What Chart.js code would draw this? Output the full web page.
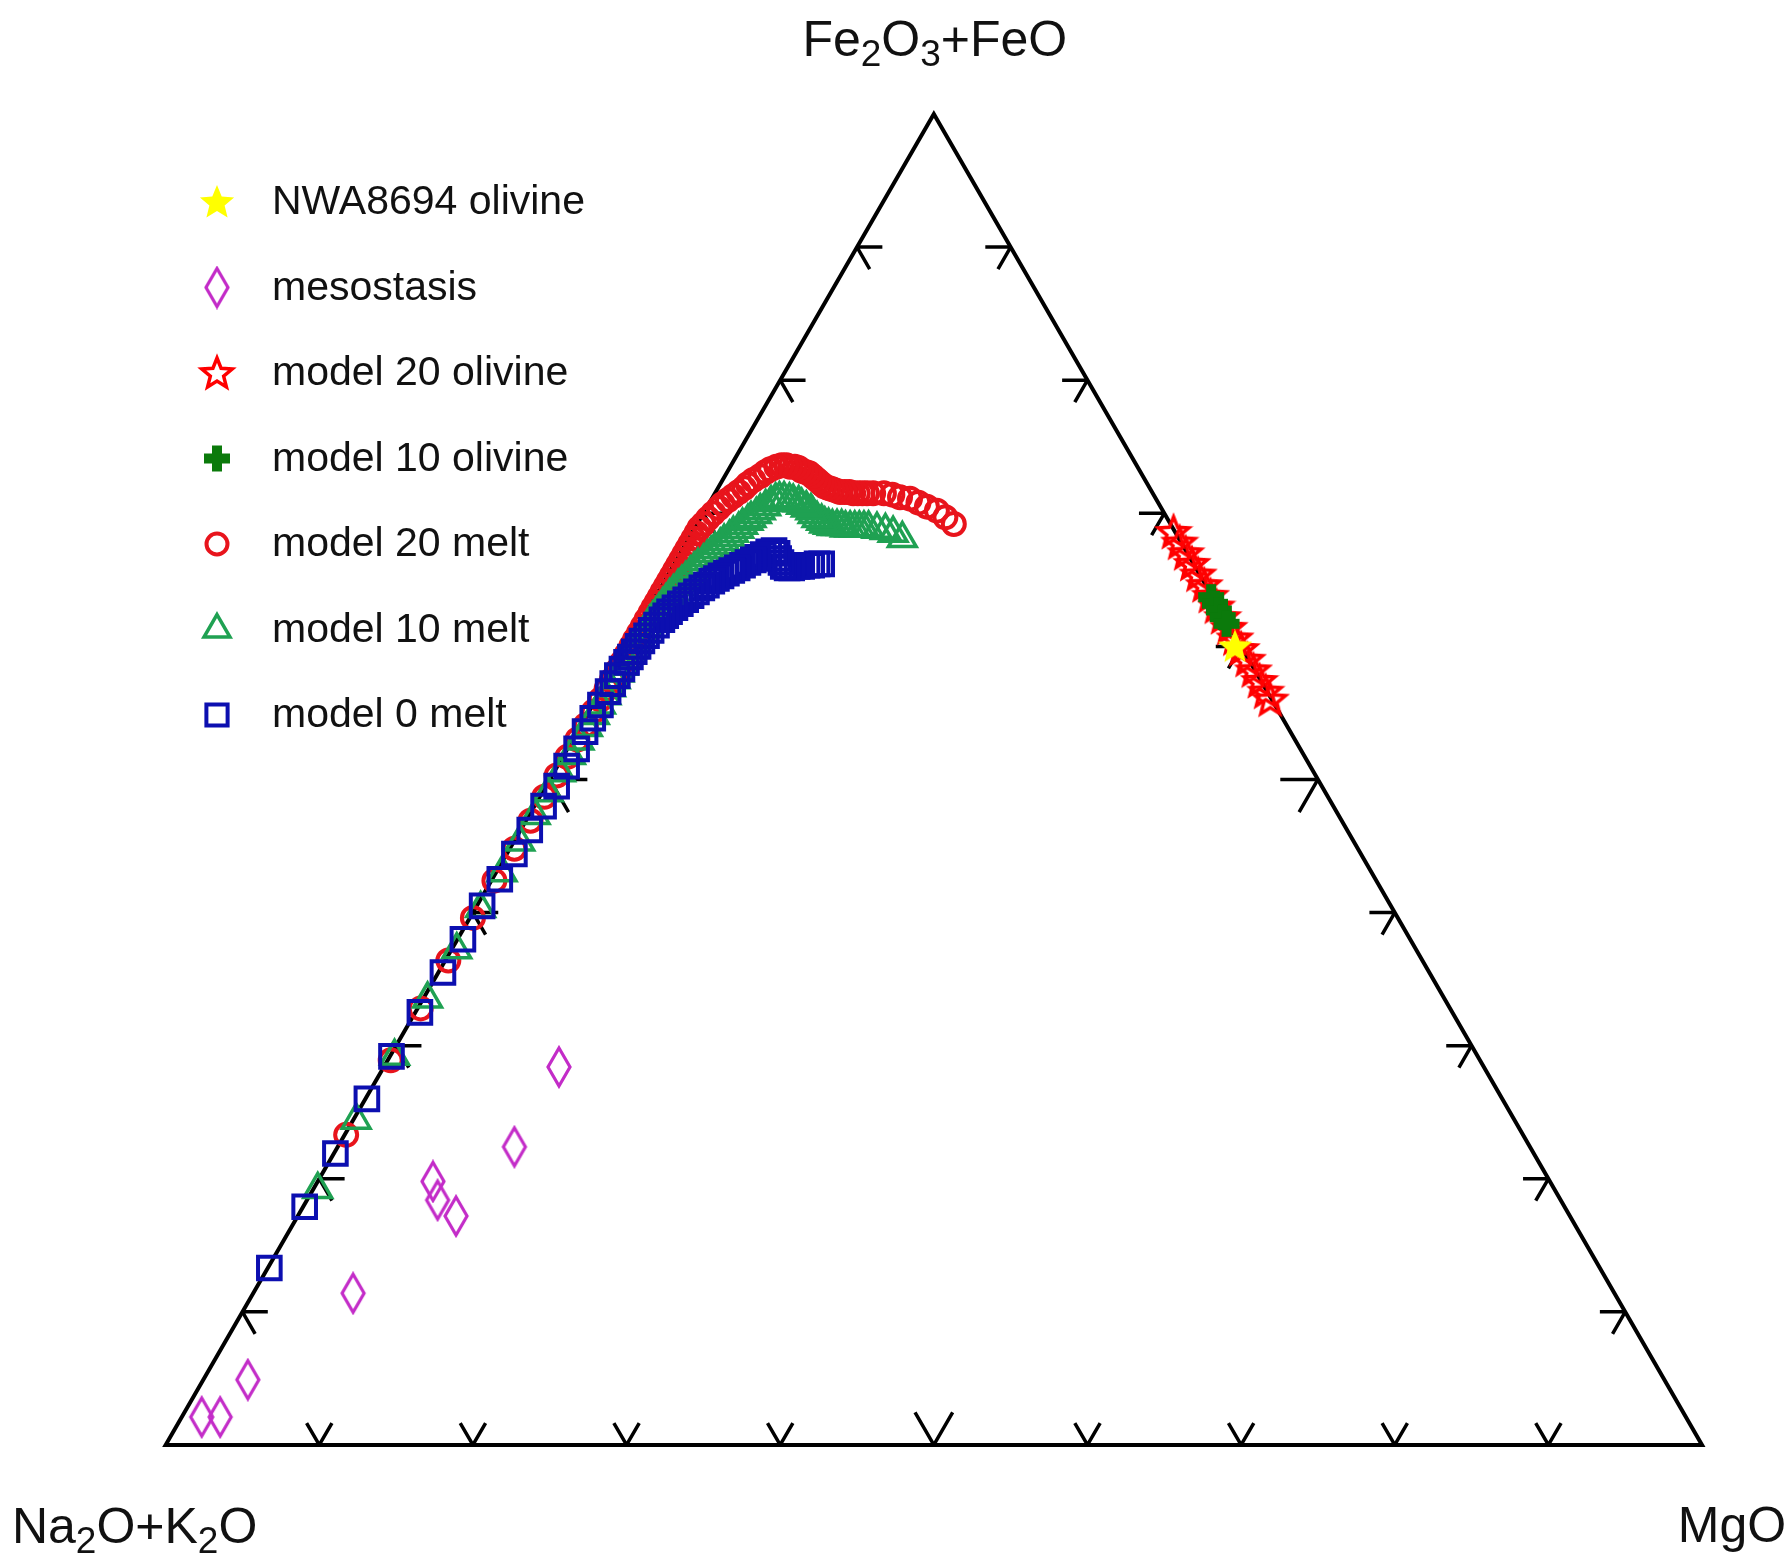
<!DOCTYPE html>
<html>
<head>
<meta charset="utf-8">
<title>Fe2O3+FeO – Na2O+K2O – MgO ternary</title>
<script src="https://cdn.jsdelivr.net/npm/chart.js@4.4.1/dist/chart.umd.min.js"></script>
<style>
  html, body { margin: 0; padding: 0; background: #fff; }
  #wrap { width: 1791px; height: 1559px; }
</style>
</head>
<body>
<div id="wrap"><canvas id="tern" width="1791" height="1559"></canvas></div>
<script>
// Compositions as [Fe2O3+FeO, MgO] in % of the ternary sum.
// Na2O+K2O is the remainder up to 100.
const nwaOlivine = [[60.0, 39.6]];

const mesostasis = [
    [2.1, 1.3], [2.1, 2.5], [4.9, 2.9], [11.4, 6.5], [19.8, 7.5],
    [18.4, 8.5], [17.2, 10.3], [22.4, 11.5], [28.4, 11.4]
];

const model20Olivine = [
    [68.6, 31.3], [67.8, 32.1], [67.0, 32.9], [66.2, 33.7], [65.4, 34.5], [64.6, 35.3],
    [63.8, 36.1], [63.0, 36.9], [62.2, 37.7], [61.4, 38.5], [60.6, 39.3], [59.8, 40.1],
    [59.0, 40.9], [58.2, 41.7], [57.4, 42.5], [56.6, 43.3], [56.0, 43.9]
];

const model10Olivine = [
    [63.7, 36.2], [63.2, 36.7], [62.7, 37.2], [62.2, 37.7], [61.7, 38.2]
];

const model20Melt = [
    [69.2, 16.7], [69.7, 15.9], [70.2, 15.1], [70.5, 14.3], [70.8, 13.6], [71.1, 12.9],
    [71.2, 12.2], [71.4, 11.6], [71.5, 11.0], [71.5, 10.3],
    [71.5, 9.9], [71.5, 9.6], [71.5, 9.3], [71.5, 9.0], [71.6, 8.7], [71.6, 8.4],
    [71.6, 8.1], [71.7, 7.8], [71.8, 7.5], [71.9, 7.2], [72.0, 6.9], [72.2, 6.6],
    [72.4, 6.3], [72.6, 6.0], [72.8, 5.7], [73.0, 5.4], [73.1, 5.1], [73.2, 4.8],
    [73.4, 4.5], [73.5, 4.2], [73.5, 3.9], [73.6, 3.6], [73.6, 3.3], [73.5, 3.0],
    [73.3, 2.7], [73.1, 2.5], [72.8, 2.3], [72.5, 2.0], [72.2, 1.8], [71.9, 1.7],
    [71.6, 1.5], [71.3, 1.3], [71.0, 1.1], [70.7, 0.9], [70.4, 0.8], [70.0, 0.65],
    [69.6, 0.5], [69.2, 0.4], [68.9, 0.3],
    [68.5, 0.3], [68.1, 0.3], [67.7, 0.3], [67.3, 0.3], [66.9, 0.3], [66.5, 0.3],
    [66.1, 0.3], [65.7, 0.3], [65.3, 0.3], [64.9, 0.3], [64.5, 0.3], [64.1, 0.3],
    [63.7, 0.3], [63.3, 0.3], [62.9, 0.3], [62.5, 0.3], [62.0, 0.3], [61.5, 0.3],
    [61.0, 0.3], [60.5, 0.3], [60.0, 0.3], [59.4, 0.3], [58.8, 0.3], [58.2, 0.3],
    [57.5, 0.3], [56.8, 0.3], [56.0, 0.3], [55.1, 0.3], [54.1, 0.3], [53.0, 0.3],
    [51.7, 0.3], [50.3, 0.3], [48.7, 0.3], [46.9, 0.3], [44.8, 0.3], [42.4, 0.2],
    [39.6, 0.2], [36.4, 0.2], [32.8, 0.2], [28.9, 0.2], [23.3, 0.1]
];

const model10Melt = [
    [68.1, 13.9], [68.5, 13.1], [68.7, 12.5], [68.8, 11.9], [68.9, 11.3],
    [68.9, 11.0], [68.9, 10.7], [68.9, 10.4], [68.9, 10.1], [68.9, 9.8], [69.0, 9.5],
    [69.0, 9.2], [69.0, 8.9], [69.1, 8.6], [69.2, 8.3], [69.4, 8.0], [69.6, 7.6],
    [69.9, 7.2], [70.2, 6.9], [70.4, 6.5], [70.6, 6.1], [70.8, 5.8], [70.9, 5.4],
    [71.0, 5.1], [71.1, 4.7], [71.1, 4.4], [71.0, 4.2], [70.8, 4.0], [70.5, 3.8],
    [70.2, 3.6], [69.9, 3.5], [69.6, 3.3], [69.4, 3.2], [69.1, 3.0], [68.8, 2.9],
    [68.5, 2.7], [68.2, 2.6], [67.9, 2.4], [67.6, 2.3], [67.3, 2.1], [67.0, 2.0],
    [66.7, 1.9], [66.4, 1.8], [66.1, 1.6], [65.8, 1.5], [65.5, 1.4], [65.1, 1.3],
    [64.8, 1.2], [64.5, 1.1], [64.1, 1.0], [63.8, 0.9], [63.4, 0.85], [63.1, 0.8],
    [62.7, 0.75], [62.4, 0.7], [62.1, 0.65], [61.8, 0.6],
    [61.4, 0.6], [61.0, 0.6], [60.6, 0.6], [60.2, 0.55], [59.8, 0.55], [59.4, 0.55],
    [59.0, 0.5], [58.5, 0.5], [58.0, 0.5], [57.5, 0.5], [56.9, 0.5], [56.3, 0.5],
    [55.6, 0.5], [54.8, 0.5], [53.9, 0.5], [52.9, 0.45], [51.8, 0.45], [50.5, 0.45],
    [49.0, 0.4], [47.3, 0.4], [45.3, 0.4], [43.0, 0.4], [40.3, 0.35], [37.2, 0.35],
    [33.5, 0.3], [29.2, 0.3], [24.4, 0.2], [19.2, 0.3]
];

const model0Melt = [
    [66.2, 9.6], [66.2, 9.3], [66.1, 9.0], [66.1, 8.7], [66.0, 8.4], [66.0, 8.1],
    [65.9, 7.8], [65.9, 7.5], [66.0, 7.2], [66.3, 6.9], [66.6, 6.6], [67.0, 6.3],
    [67.2, 6.0], [67.1, 5.7], [66.9, 5.45], [66.7, 5.2], [66.5, 5.0], [66.3, 4.75],
    [66.1, 4.5], [65.9, 4.25], [65.7, 4.0], [65.5, 3.75], [65.3, 3.5], [65.1, 3.3],
    [64.9, 3.1], [64.6, 2.9], [64.4, 2.7], [64.1, 2.5], [63.8, 2.3], [63.5, 2.1],
    [63.2, 1.9], [62.9, 1.7], [62.6, 1.5], [62.3, 1.4], [62.0, 1.3], [61.6, 1.15],
    [61.2, 1.0], [60.8, 0.9], [60.4, 0.8], [60.0, 0.75], [59.6, 0.7], [59.2, 0.65],
    [58.8, 0.6], [58.3, 0.55], [57.8, 0.5], [57.2, 0.5],
    [56.6, 0.5], [55.6, 0.5], [54.6, 0.5], [53.6, 0.5], [52.3, 0.6], [51.0, 0.6],
    [49.5, 0.7], [48.0, 0.6], [46.2, 0.6], [44.4, 0.5], [42.5, 0.5], [40.5, 0.35],
    [38.0, 0.35], [35.5, 0.3], [32.5, 0.3], [29.2, 0.1], [26.0, 0.1], [21.9, 0.1],
    [17.9, 0.1], [13.3, 0.1]
];

const seriesLabels = [
    'NWA8694 olivine', 'mesostasis', 'model 20 olivine', 'model 10 olivine',
    'model 20 melt', 'model 10 melt', 'model 0 melt'
];
// corner labels: top, bottom-left, bottom-right (digits are drawn as subscripts)
const cornerLabels = ['Fe2O3+FeO', 'Na2O+K2O', 'MgO'];
const tickValues = [10, 20, 30, 40, 50, 60, 70, 80, 90];

// -------------------------------------------------------------------

const SQ3 = Math.sqrt(3) / 2;
const toXY = ([fe, mg]) => ({ x: mg + fe / 2, y: fe * SQ3 });
const FONT = "'Liberation Sans', Arial, Helvetica, sans-serif";

// small canvases for the marker shapes Chart.js does not have
function makeMarker(w, h, draw) {
    const c = document.createElement('canvas');
    c.width = w;
    c.height = h;
    draw(c.getContext('2d'), w, h);
    return c;
}

function starPath(ctx, cx, cy, R, r) {
    ctx.beginPath();
    for (let i = 0; i < 10; i++) {
        const a = -Math.PI / 2 + i * Math.PI / 5;
        const rad = i % 2 === 0 ? R : r;
        const px = cx + Math.cos(a) * rad;
        const py = cy + Math.sin(a) * rad;
        i === 0 ? ctx.moveTo(px, py) : ctx.lineTo(px, py);
    }
    ctx.closePath();
}

const yellowStar = makeMarker(40, 40, (ctx) => {
    starPath(ctx, 20, 21, 18, 8);
    ctx.fillStyle = '#ffff00';
    ctx.fill();
});

const redStar = makeMarker(40, 40, (ctx) => {
    starPath(ctx, 20, 21, 16, 7);
    ctx.strokeStyle = '#ff0000';
    ctx.lineWidth = 3.5;
    ctx.lineJoin = 'miter';
    ctx.stroke();
});

const greenPlus = makeMarker(28, 28, (ctx) => {
    ctx.fillStyle = '#0b7a0b';
    ctx.fillRect(9, 1, 10, 26);
    ctx.fillRect(1, 9, 26, 10);
});

const diamond = makeMarker(28, 44, (ctx) => {
    ctx.beginPath();
    ctx.moveTo(14, 3);
    ctx.lineTo(25, 22);
    ctx.lineTo(14, 41);
    ctx.lineTo(3, 22);
    ctx.closePath();
    ctx.strokeStyle = '#c32cc8';
    ctx.lineWidth = 3.2;
    ctx.stroke();
});

function drawChem(ctx, text, cx, baseline, size) {
    // digits are subscripts
    const parts = text.match(/\d+|\D+/g);
    const subSize = Math.round(size * 0.74);
    const widthOf = (p) => {
        ctx.font = `${/\d/.test(p) ? subSize : size}px ${FONT}`;
        return ctx.measureText(p).width;
    };
    const total = parts.reduce((s, p) => s + widthOf(p), 0);
    let x = cx - total / 2;
    ctx.textAlign = 'left';
    ctx.textBaseline = 'alphabetic';
    parts.forEach(p => {
        const sub = /\d/.test(p);
        ctx.font = `${sub ? subSize : size}px ${FONT}`;
        ctx.fillText(p, x, baseline + (sub ? size * 0.2 : 0));
        x += ctx.measureText(p).width;
    });
}

const ternaryFrame = {
    id: 'ternaryFrame',
    beforeDatasetsDraw(chart) {
        const { ctx, scales: { x, y } } = chart;
        const P = (a, b) => [x.getPixelForValue(a), y.getPixelForValue(b)];
        ctx.save();
        ctx.strokeStyle = '#000';
        ctx.lineWidth = 4;
        ctx.lineJoin = 'miter';
        ctx.beginPath();
        ctx.moveTo(...P(0, 0));
        ctx.lineTo(...P(100, 0));
        ctx.lineTo(...P(50, 100 * SQ3));
        ctx.closePath();
        ctx.stroke();

        ctx.lineWidth = 3.5;
        ctx.lineCap = 'butt';
        const seg = (p, dx, dy) => {
            ctx.moveTo(...P(p[0], p[1]));
            ctx.lineTo(...P(p[0] + dx, p[1] + dy));
        };
        ctx.beginPath();
        tickValues.forEach(v => {
            const len = v === 50 ? 2.45 : 1.65;
            // bottom side
            seg([v, 0], len / 2, len * SQ3);
            seg([v, 0], -len / 2, len * SQ3);
            // left side
            seg([v / 2, v * SQ3], len, 0);
            seg([v / 2, v * SQ3], len / 2, -len * SQ3);
            // right side
            seg([100 - v / 2, v * SQ3], -len, 0);
            seg([100 - v / 2, v * SQ3], -len / 2, -len * SQ3);
        });
        ctx.stroke();
        ctx.restore();
    },
    afterDraw(chart) {
        const { ctx, scales: { x, y } } = chart;
        ctx.save();
        ctx.fillStyle = '#111';

        // corner labels
        const top = [x.getPixelForValue(50), y.getPixelForValue(100 * SQ3)];
        const left = [x.getPixelForValue(0), y.getPixelForValue(0)];
        const right = [x.getPixelForValue(100), y.getPixelForValue(0)];
        drawChem(ctx, cornerLabels[0], top[0] + 1, top[1] - 58, 50);
        drawChem(ctx, cornerLabels[1], left[0] - 31, left[1] + 98, 50);
        drawChem(ctx, cornerLabels[2], right[0] + 30, right[1] + 97, 50);

        // legend
        const drawPoint = Chart.helpers && Chart.helpers.drawPoint;
        seriesLabels.forEach((label, i) => {
            const ds = chart.data.datasets.find(d => d.label === label);
            const ly = 202 + i * 85.5;
            if (ds && drawPoint) {
                ctx.save();
                ctx.strokeStyle = ds.borderColor || '#000';
                ctx.fillStyle = 'rgba(0,0,0,0)';
                ctx.lineWidth = ds.borderWidth || 1;
                drawPoint(ctx, {
                    pointStyle: ds.pointStyle,
                    rotation: 0,
                    radius: ds.legendRadius || ds.pointRadius,
                    borderWidth: ds.borderWidth || 0
                }, 217, ly);
                ctx.restore();
            }
            ctx.font = `41px ${FONT}`;
            ctx.textAlign = 'left';
            ctx.textBaseline = 'middle';
            ctx.fillStyle = '#111';
            ctx.fillText(label, 272, ly + 1);
        });
        ctx.restore();
    }
};

const clear = 'rgba(0,0,0,0)';

new Chart(document.getElementById('tern'), {
    type: 'scatter',
    data: {
        datasets: [
            {
                label: 'NWA8694 olivine',
                data: nwaOlivine.map(toXY),
                pointStyle: yellowStar,
                pointRadius: 15,
                order: 0
            },
            {
                label: 'mesostasis',
                data: mesostasis.map(toXY),
                pointStyle: diamond,
                pointRadius: 15,
                order: 3
            },
            {
                label: 'model 20 olivine',
                data: model20Olivine.map(toXY),
                pointStyle: redStar,
                pointRadius: 15,
                order: 2
            },
            {
                label: 'model 10 olivine',
                data: model10Olivine.map(toXY),
                pointStyle: greenPlus,
                pointRadius: 13,
                order: 1
            },
            {
                label: 'model 20 melt',
                data: model20Melt.map(toXY),
                pointStyle: 'circle',
                pointRadius: 11,
                legendRadius: 10.5,
                borderColor: '#e8141c',
                backgroundColor: clear,
                borderWidth: 4,
                order: 6
            },
            {
                label: 'model 10 melt',
                data: model10Melt.map(toXY),
                pointStyle: 'triangle',
                pointRadius: 16,
                legendRadius: 15,
                borderColor: '#1fa152',
                backgroundColor: clear,
                borderWidth: 3.5,
                order: 5
            },
            {
                label: 'model 0 melt',
                data: model0Melt.map(toXY),
                pointStyle: 'rect',
                pointRadius: 16,
                legendRadius: 15,
                borderColor: '#0c0fb0',
                backgroundColor: clear,
                borderWidth: 4,
                order: 4
            }
        ]
    },
    options: {
        responsive: false,
        devicePixelRatio: 1,
        animation: false,
        layout: { padding: 0, autoPadding: false },
        plugins: {
            legend: { display: false },
            tooltip: { enabled: false }
        },
        scales: {
            x: { type: 'linear', display: false, min: -10.78, max: 105.79 },
            y: { type: 'linear', display: false, min: -7.42, max: 94.02 }
        }
    },
    plugins: [ternaryFrame]
});
</script>
</body>
</html>
